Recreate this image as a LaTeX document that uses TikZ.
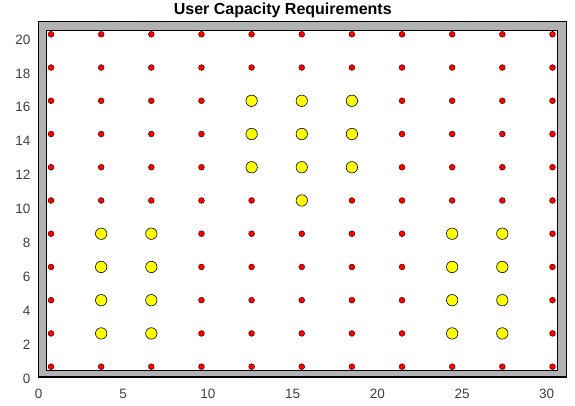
\documentclass[tikz,border=0pt]{standalone}
\usepackage{fontspec}
\setmainfont{Liberation Sans}
\definecolor{wallgray}{RGB}{178,178,178}
\definecolor{dotred}{RGB}{255,0,0}
\definecolor{dotyellow}{RGB}{255,255,0}
\begin{document}
\begin{tikzpicture}[x=16.94pt,y=16.94pt,
  reddot/.style={circle,draw=black!70!red,line width=0.5pt,fill=dotred,inner sep=0pt,minimum size=5.8pt},
  yellowdot/.style={circle,draw=black,line width=0.6pt,fill=dotyellow,inner sep=0pt,minimum size=11.4pt},
  ticklbl/.style={font=\fontsize{13.5}{13.5}\selectfont,text=black!75,inner sep=0pt},
  titlelbl/.style={font=\fontsize{16}{16}\selectfont\bfseries}]
\useasboundingbox[fill=white] (-2.273,-1.653) rectangle (31.67,22.255);
% walls
\fill[wallgray,even odd rule] (0,0) rectangle (31.18,21) (0.5,0.4) rectangle (30.63,20.45);
\draw[line width=1.3pt] (0,0) rectangle (31.18,21);
\draw[line width=1.0pt] (0.5,0.4) rectangle (30.63,20.45);
% dots
\foreach \i in {0,...,10}{
  \foreach \j in {0,...,10}{
    \pgfmathsetmacro{\px}{0.74+2.96*\i}
    \pgfmathsetmacro{\py}{0.61+1.962*\j}
    \pgfmathtruncatemacro{\isy}{
      ((\i==1 || \i==2 || \i==8 || \i==9) && \j>=1 && \j<=4) ||
      ((\i==4 || \i==6) && \j>=6 && \j<=8) ||
      (\i==5 && \j>=5 && \j<=8)}
    \ifnum\isy=1
      \node[yellowdot] (d-\i-\j) at (\px,\py) {};
    \else
      \node[reddot] (d-\i-\j) at (\px,\py) {};
    \fi
  }
}
% tick labels
\foreach \v in {0,5,...,30}{
  \node[ticklbl] (xt\v) at (\v,-1.0) {\v};
}
\foreach \v in {0,2,...,20}{
  \node[ticklbl,anchor=east] (yt\v) at (-0.47,\v-0.08) {\v};
}
% title
\node[titlelbl,anchor=base] (title) at (14.42,21.37) {User Capacity Requirements};
\end{tikzpicture}
\end{document}
